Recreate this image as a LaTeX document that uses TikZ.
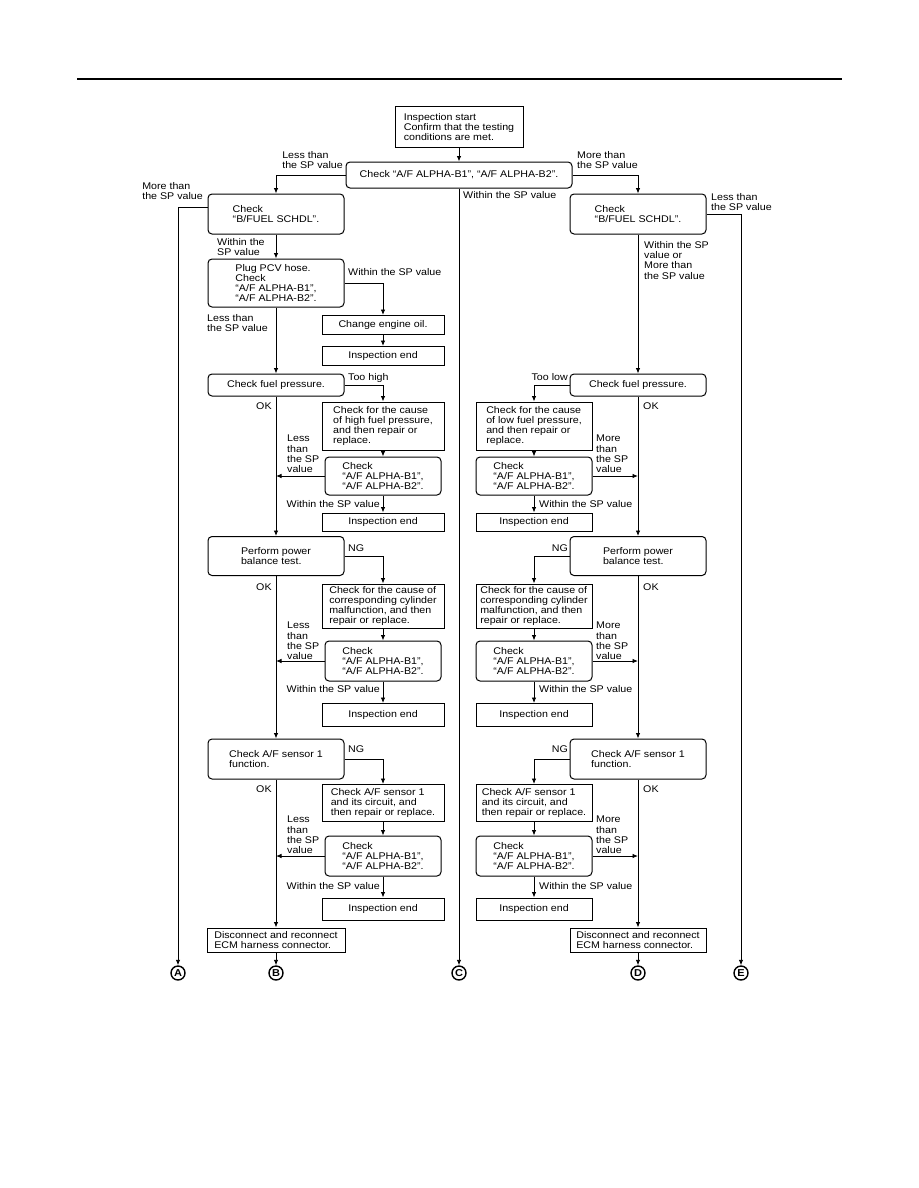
\documentclass[tikz,border=0pt]{standalone}
\usepackage{fontspec}
\setmainfont{Liberation Sans}[FakeStretch=1.1]
\usetikzlibrary{arrows.meta}
\newcommand{\flowfont}{\fontsize{9.7}{10.3}\selectfont}

\begin{document}
\begin{tikzpicture}[x=1pt, y=-1pt,
    roundbox/.style={rectangle, rounded corners=4pt, draw, line width=1pt, align=left, inner sep=2pt, font=\flowfont},
    squarebox/.style={rectangle, draw, line width=1pt, align=left, inner sep=2pt, font=\flowfont},
    lbl/.style={align=left, inner sep=0pt, font=\flowfont},
    arr/.style={line width=0.9pt, -{Latex[length=5.5pt,width=4.5pt]}},
    letter/.style={circle, draw, line width=1.4pt, inner sep=0pt, minimum size=14pt, font=\bfseries\fontsize{10}{10}\selectfont},
    ]
      \useasboundingbox (0,0) rectangle (918,1188);
      \draw[line width=2pt] (77,79) -- (842,79);

      %Nodes
      \node[squarebox, minimum width=128, minimum height=40] (start) at (459,127) {Inspection start\\Confirm that the testing\\conditions are met.};
      \node[roundbox, minimum width=226, minimum height=26]  (chk)   at (459,175) {Check “A/F ALPHA-B1”, “A/F ALPHA-B2”.};

      \node[roundbox, minimum width=136, minimum height=40] (bfl)  at (276,214) {Check\\“B/FUEL SCHDL”.};
      \node[roundbox, minimum width=136, minimum height=40] (bfr)  at (638,214) {Check\\“B/FUEL SCHDL”.};
      \node[roundbox, minimum width=136, minimum height=48] (plug) at (276,283) {Plug PCV hose.\\Check\\“A/F ALPHA-B1”,\\“A/F ALPHA-B2”.};
      \node[squarebox, minimum width=122, minimum height=19] (oil)  at (383,325) {Change engine oil.};
      \node[squarebox, minimum width=122, minimum height=19] (enda) at (383,356) {Inspection end};

      % fuel pressure
      \node[roundbox, minimum width=136, minimum height=22] (fpl)   at (276,385) {Check fuel pressure.};
      \node[roundbox, minimum width=136, minimum height=22] (fpr)   at (638,385) {Check fuel pressure.};
      \node[squarebox, minimum width=122, minimum height=48] (high) at (383,426) {Check for the cause\\of high fuel pressure,\\and then repair or\\replace.};
      \node[squarebox, minimum width=116, minimum height=48] (low)  at (534,426) {Check for the cause\\of low fuel pressure,\\and then repair or\\replace.};
      \node[roundbox, minimum width=116, minimum height=38] (cl1)   at (383,476) {Check\\“A/F ALPHA-B1”,\\“A/F ALPHA-B2”.};
      \node[roundbox, minimum width=116, minimum height=38] (cr1)   at (534,476) {Check\\“A/F ALPHA-B1”,\\“A/F ALPHA-B2”.};
      \node[squarebox, minimum width=122, minimum height=18] (el1)  at (383,522) {Inspection end};
      \node[squarebox, minimum width=116, minimum height=18] (er1)  at (534,522) {Inspection end};

      % power balance
      \node[roundbox, minimum width=136, minimum height=39] (pwl)   at (276,556) {Perform power\\balance test.};
      \node[roundbox, minimum width=136, minimum height=39] (pwr)   at (638,556) {Perform power\\balance test.};
      \node[squarebox, minimum width=122, minimum height=44] (cyll) at (383,606) {Check for the cause of\\corresponding cylinder\\malfunction, and then\\repair or replace.};
      \node[squarebox, minimum width=116, minimum height=44] (cylr) at (534,606) {Check for the cause of\\corresponding cylinder\\malfunction, and then\\repair or replace.};
      \node[roundbox, minimum width=116, minimum height=40] (cl2)   at (383,661) {Check\\“A/F ALPHA-B1”,\\“A/F ALPHA-B2”.};
      \node[roundbox, minimum width=116, minimum height=40] (cr2)   at (534,661) {Check\\“A/F ALPHA-B1”,\\“A/F ALPHA-B2”.};
      \node[squarebox, minimum width=122, minimum height=23] (el2)  at (383,715) {Inspection end};
      \node[squarebox, minimum width=116, minimum height=23] (er2)  at (534,715) {Inspection end};

      % A/F sensor 1
      \node[roundbox, minimum width=136, minimum height=40] (snl)   at (276,759) {Check A/F sensor 1\\function.};
      \node[roundbox, minimum width=136, minimum height=40] (snr)   at (638,759) {Check A/F sensor 1\\function.};
      \node[squarebox, minimum width=122, minimum height=37] (cirl) at (383,803) {Check A/F sensor 1\\and its circuit, and\\then repair or replace.};
      \node[squarebox, minimum width=116, minimum height=37] (cirr) at (534,803) {Check A/F sensor 1\\and its circuit, and\\then repair or replace.};
      \node[roundbox, minimum width=116, minimum height=40] (cl3)   at (383,856) {Check\\“A/F ALPHA-B1”,\\“A/F ALPHA-B2”.};
      \node[roundbox, minimum width=116, minimum height=40] (cr3)   at (534,856) {Check\\“A/F ALPHA-B1”,\\“A/F ALPHA-B2”.};
      \node[squarebox, minimum width=122, minimum height=22] (el3)  at (383,909) {Inspection end};
      \node[squarebox, minimum width=116, minimum height=22] (er3)  at (534,909) {Inspection end};

      \node[squarebox, minimum width=138, minimum height=24] (dcl)  at (276,940) {Disconnect and reconnect\\ECM harness connector.};
      \node[squarebox, minimum width=136, minimum height=24] (dcr)  at (638,940) {Disconnect and reconnect\\ECM harness connector.};

      \node[letter] (la) at (178,973) {A};
      \node[letter] (lb) at (276,973) {B};
      \node[letter] (lc) at (459,973) {C};
      \node[letter] (ld) at (638,973) {D};
      \node[letter] (le) at (741,973) {E};

      %Labels
      \node[lbl, anchor=north east] (t1)  at (343,151) {Less than\\the SP value};
      \node[lbl, anchor=north west] (t2)  at (577,151) {More than\\the SP value};
      \node[lbl, anchor=north west] (t3)  at (463,191) {Within the SP value};
      \node[lbl, anchor=north east] (t4)  at (203,182) {More than\\the SP value};
      \node[lbl, anchor=north west] (t5)  at (711,193) {Less than\\the SP value};
      \node[lbl, anchor=north west] (t6)  at (217,238) {Within the\\SP value};
      \node[lbl, anchor=north west] (t7)  at (348,268) {Within the SP value};
      \node[lbl, anchor=north west] (t8)  at (207,314) {Less than\\the SP value};
      \node[lbl, anchor=north west] (t9)  at (644,241) {Within the SP\\value or\\More than\\the SP value};

      \node[lbl, anchor=north west] (u1)  at (348,373) {Too high};
      \node[lbl, anchor=north east] (u2)  at (568,373) {Too low};
      \node[lbl, anchor=north west] (u3)  at (256,403) {OK};
      \node[lbl, anchor=north west] (u4)  at (643,403) {OK};
      \node[lbl, anchor=north west] (u5)  at (287,435) {Less\\than\\the SP\\value};
      \node[lbl, anchor=north west] (u6)  at (596,435) {More\\than\\the SP\\value};
      \node[lbl, anchor=north east] (u7)  at (380,500) {Within the SP value};
      \node[lbl, anchor=north west] (u8)  at (539,500) {Within the SP value};

      \node[lbl, anchor=north west] (v1)  at (348,545) {NG};
      \node[lbl, anchor=north east] (v2)  at (568,545) {NG};
      \node[lbl, anchor=north west] (v3)  at (256,584) {OK};
      \node[lbl, anchor=north west] (v4)  at (643,584) {OK};
      \node[lbl, anchor=north west] (v5)  at (287,622) {Less\\than\\the SP\\value};
      \node[lbl, anchor=north west] (v6)  at (596,622) {More\\than\\the SP\\value};
      \node[lbl, anchor=north east] (v7)  at (380,685) {Within the SP value};
      \node[lbl, anchor=north west] (v8)  at (539,685) {Within the SP value};

      \node[lbl, anchor=north west] (w1)  at (348,746) {NG};
      \node[lbl, anchor=north east] (w2)  at (568,746) {NG};
      \node[lbl, anchor=north west] (w3)  at (256,786) {OK};
      \node[lbl, anchor=north west] (w4)  at (643,786) {OK};
      \node[lbl, anchor=north west] (w5)  at (287,816) {Less\\than\\the SP\\value};
      \node[lbl, anchor=north west] (w6)  at (596,816) {More\\than\\the SP\\value};
      \node[lbl, anchor=north east] (w7)  at (380,882) {Within the SP value};
      \node[lbl, anchor=north west] (w8)  at (539,882) {Within the SP value};

      %Lines
      \draw[arr] (start.south) -- (chk.north);
      \draw[arr] (chk.west) -| (bfl.north);
      \draw[arr] (chk.east) -| (bfr.north);
      \draw[arr] (chk.south) -- (lc.north);
      \draw[arr] ([yshift=7pt]bfl.west) -| (la.north);
      \draw[arr] (bfr.east) -| (le.north);

      \draw[arr] (bfl.south) -- (plug.north);
      \draw[arr] (plug.east) -| (oil.north);
      \draw[arr] (oil.south) -- (enda.north);
      \draw[arr] (plug.south) -- (fpl.north);
      \draw[arr] (bfr.south) -- (fpr.north);

      \draw[arr] (fpl.east) -| (high.north);
      \draw[arr] (high.south) -- (cl1.north);
      \draw[arr] (cl1.west) -- (cl1.west -| fpl.south);
      \draw[arr] (cl1.south) -- (el1.north);
      \draw[arr] (fpl.south) -- (pwl.north);
      \draw[arr] (fpr.west) -| (low.north);
      \draw[arr] (low.south) -- (cr1.north);
      \draw[arr] (cr1.east) -- (cr1.east -| fpr.south);
      \draw[arr] (cr1.south) -- (er1.north);
      \draw[arr] (fpr.south) -- (pwr.north);

      \draw[arr] (pwl.east) -| (cyll.north);
      \draw[arr] (cyll.south) -- (cl2.north);
      \draw[arr] (cl2.west) -- (cl2.west -| pwl.south);
      \draw[arr] (cl2.south) -- (el2.north);
      \draw[arr] (pwl.south) -- (snl.north);
      \draw[arr] (pwr.west) -| (cylr.north);
      \draw[arr] (cylr.south) -- (cr2.north);
      \draw[arr] (cr2.east) -- (cr2.east -| pwr.south);
      \draw[arr] (cr2.south) -- (er2.north);
      \draw[arr] (pwr.south) -- (snr.north);

      \draw[arr] (snl.east) -| (cirl.north);
      \draw[arr] (cirl.south) -- (cl3.north);
      \draw[arr] (cl3.west) -- (cl3.west -| snl.south);
      \draw[arr] (cl3.south) -- (el3.north);
      \draw[arr] (snl.south) -- (dcl.north);
      \draw[arr] (snr.west) -| (cirr.north);
      \draw[arr] (cirr.south) -- (cr3.north);
      \draw[arr] (cr3.east) -- (cr3.east -| snr.south);
      \draw[arr] (cr3.south) -- (er3.north);
      \draw[arr] (snr.south) -- (dcr.north);

      \draw[arr] (dcl.south) -- (lb.north);
      \draw[arr] (dcr.south) -- (ld.north);
    \end{tikzpicture}
\end{document}
